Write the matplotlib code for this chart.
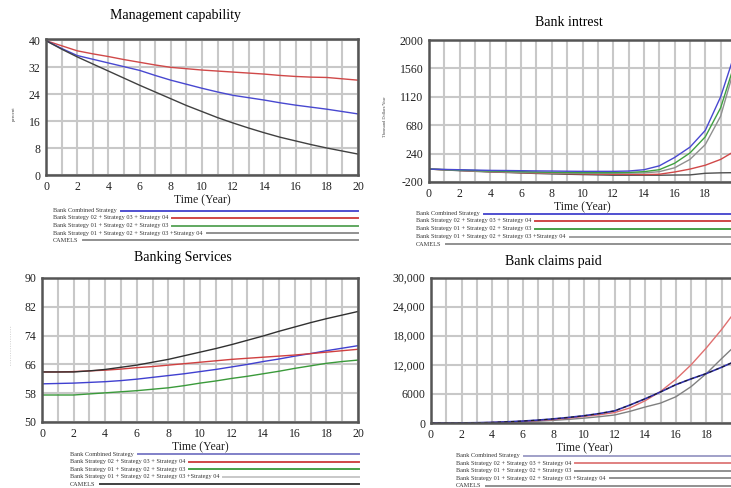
import numpy as np
import matplotlib
matplotlib.use("Agg")
import matplotlib.pyplot as plt
from matplotlib.lines import Line2D

plt.rcParams['font.family'] = ['Liberation Serif', 'DejaVu Serif']
plt.rcParams['axes.unicode_minus'] = False

years = list(range(0, 21))
xticks = [0, 2, 4, 6, 8, 10, 12, 14, 16, 18, 20]

legend_labels = ["Bank Combined Strategy",
                 "Bank Strategy 02 + Strategy 03 + Strategy 04",
                 "Bank Strategy 01 + Strategy 02 + Strategy 03",
                 "Bank Strategy 01 + Strategy 02 + Strategy 03 +Strategy 04",
                 "CAMELS"]

# ---- Management capability (percent)
mc_yticks = [0, 8, 16, 24, 32, 40]
mc_combined = [39.8, 37.5, 35.4, 34.3, 33.2, 32.1, 31.0, 29.5, 28.1, 26.9, 25.7,
               24.6, 23.6, 22.9, 22.2, 21.4, 20.7, 20.1, 19.5, 18.8, 18.1]
mc_s234 = [39.8, 38.3, 36.8, 35.9, 35.1, 34.2, 33.4, 32.6, 31.9, 31.5, 31.1,
           30.8, 30.5, 30.2, 29.9, 29.5, 29.2, 29.0, 28.9, 28.5, 28.1]
mc_camels = [39.8, 37.3, 35.0, 32.9, 30.8, 28.7, 26.6, 24.6, 22.6, 20.6, 18.8,
             17.0, 15.4, 13.9, 12.5, 11.2, 10.1, 9.0, 8.0, 7.1, 6.2]

# ---- Bank intrest
bi_yticks = [-200, 240, 680, 1120, 1560, 2000]
bi_combined = [0, -5, -10, -15, -20, -22, -25, -28, -30, -33, -35,
               -35, -35, -30, -10, 50, 180, 340, 600, 1120, 1850]
bi_s123 = [0, -8, -15, -22, -30, -35, -40, -45, -50, -52, -55,
           -55, -55, -52, -40, -10, 90, 250, 500, 950, 1700]
bi_s1234 = [0, -10, -20, -30, -40, -45, -50, -55, -60, -62, -65,
            -65, -65, -62, -60, -40, 20, 150, 380, 820, 1650]
bi_s234 = [0, -10, -20, -30, -40, -48, -55, -60, -65, -70, -75,
           -78, -80, -82, -85, -80, -45, 0, 60, 150, 290]
bi_camels = [0, -12, -25, -35, -45, -52, -60, -68, -75, -80, -85,
             -90, -95, -95, -95, -95, -92, -90, -65, -58, -55]

# ---- Banking Services
bs_yticks = [50, 58, 66, 74, 82, 90]
bs_camels = [63.9, 63.9, 63.9, 64.2, 64.6, 65.2, 65.8, 66.6, 67.4, 68.4, 69.4,
             70.4, 71.5, 72.7, 73.9, 75.2, 76.4, 77.6, 78.7, 79.7, 80.7]
bs_s234 = [63.9, 63.9, 64.0, 64.2, 64.4, 64.7, 65.1, 65.4, 65.8, 66.2, 66.6,
           67.0, 67.4, 67.7, 68.0, 68.3, 68.6, 69.0, 69.4, 69.8, 70.2]
bs_combined = [60.6, 60.7, 60.8, 61.0, 61.2, 61.5, 61.9, 62.4, 62.9, 63.4, 64.0,
               64.6, 65.3, 66.0, 66.8, 67.5, 68.3, 69.0, 69.8, 70.5, 71.2]
bs_s123 = [57.5, 57.5, 57.5, 57.8, 58.1, 58.4, 58.7, 59.1, 59.5, 60.1, 60.8,
           61.4, 62.1, 62.7, 63.4, 64.1, 64.9, 65.6, 66.3, 66.8, 67.2]

# ---- Bank claims paid
cp_yticks = [0, 6000, 12000, 18000, 24000, 30000]
cp_yticklabels = ["0", "6000", "12,000", "18,000", "24,000", "30,000"]
cp_combined = [0, 0, 20, 60, 130, 250, 400, 600, 850, 1150, 1500,
               1950, 2500, 3700, 5000, 6400, 7900, 9100, 10200, 11500, 12900]
cp_s234 = [0, 0, 10, 40, 100, 200, 330, 500, 720, 1000, 1350,
           1700, 2150, 3100, 4600, 6500, 9000, 12000, 15500, 19300, 23500]
cp_s1234 = [0, 0, 10, 30, 80, 150, 250, 380, 540, 750, 1000,
            1300, 1650, 2400, 3300, 4100, 5400, 7500, 10200, 13300, 16300]

W, H = 731, 488
fig = plt.figure(figsize=(W / 100, H / 100), dpi=100)


def rect(l, r, t, b):
    return [l / W, 1 - b / H, (r - l) / W, (b - t) / H]


def style_axes(ax, ylim, yticks, yticklabels=None):
    ax.set_xlim(0, 20)
    ax.set_ylim(*ylim)
    ax.set_xticks(xticks)
    ax.set_xticks(range(0, 21), minor=True)
    ax.set_yticks(yticks)
    if yticklabels is not None:
        ax.set_yticklabels(yticklabels)
    ax.grid(True, which='both', axis='x', color='#c8c8c8', lw=1.5, zorder=0)
    ax.grid(True, which='major', axis='y', color='#c8c8c8', lw=1.5, zorder=0)
    ax.tick_params(which='both', length=0, labelsize=8.5, pad=4, colors='#222222')
    ax.set_axisbelow(True)
    for s in ax.spines.values():
        s.set_color('#555555')
        s.set_linewidth(1.8)
    ax.set_xlabel("Time (Year)", fontsize=8.5, labelpad=1, color='#222222')


# Top-left
ax1 = fig.add_axes(rect(46, 358, 39, 175))
style_axes(ax1, (0, 40.3), mc_yticks)
ax1.plot(years, mc_s234, color='#d04848', lw=1)
ax1.plot(years, mc_combined, color='#4848d0', lw=1)
ax1.plot(years, mc_camels, color='#404040', lw=1)
fig.text(176 / W, 1 - 16 / H, "Management capability", ha='center', va='center', fontsize=10)
fig.text(14 / W, 1 - 114 / H, "percent", rotation=90, ha='center', va='center', fontsize=3.5, color='#444444')

# Top-right
ax2 = fig.add_axes(rect(429, 736, 40, 182))
style_axes(ax2, (-200, 2000), bi_yticks)
ax2.plot(years, bi_camels, color='#505050', lw=1)
ax2.plot(years, bi_s234, color='#d04848', lw=1)
ax2.plot(years, bi_s1234, color='#909090', lw=1)
ax2.plot(years, bi_s123, color='#40a040', lw=1)
ax2.plot(years, bi_combined, color='#4848d0', lw=1)
fig.text(569 / W, 1 - 23 / H, "Bank intrest", ha='center', va='center', fontsize=10)
fig.text(385 / W, 1 - 117 / H, "Thousand Dollars/Year", rotation=90, ha='center', va='center', fontsize=3.2, color='#444444')

# Bottom-left
ax3 = fig.add_axes(rect(42, 358, 278, 422))
style_axes(ax3, (50, 90), bs_yticks)
ax3.plot(years, bs_s123, color='#3a9a3a', lw=1)
ax3.plot(years, bs_combined, color='#4040d0', lw=1)
ax3.plot(years, bs_s234, color='#d04040', lw=1)
ax3.plot(years, bs_camels, color='#303030', lw=1)
fig.text(183 / W, 1 - 257 / H, "Banking Services", ha='center', va='center', fontsize=10)
fig.text(12 / W, 1 - 345 / H, "- - - - - - - - - - - - - - - - -", rotation=90, ha='center', va='center', fontsize=3, color='#777777')

# Bottom-right
ax4 = fig.add_axes(rect(431, 737, 277.5, 423))
style_axes(ax4, (0, 30000), cp_yticks, cp_yticklabels)
ax4.plot(years, cp_s1234, color='#808080', lw=1)
ax4.plot(years, cp_s234, color='#e07070', lw=1)
ax4.plot(years, cp_combined, color='#3030b0', lw=1.2)
ax4.plot(years, cp_combined, color='#202020', lw=0.8, ls=(0, (3, 3)))
fig.text(553 / W, 1 - 261 / H, "Bank claims paid", ha='center', va='center', fontsize=10)

# legends (Vensim style: label then line)
legend_specs = [
    (53, [210.5, 218, 225.5, 233, 240], 358,
     ['#5050d0', '#d04848', '#60a860', '#909090', '#909090']),
    (416, [214, 221, 229, 237, 244], 731,
     ['#5050d0', '#d04848', '#48a048', '#a0a0a0', '#909090']),
    (70, [454.3, 461.7, 469, 476.7, 484], 359,
     ['#8080c8', '#d04848', '#48a048', '#c8c8c8', '#404040']),
    (456, [455.7, 463.3, 470.7, 478.3, 485.7], 731,
     ['#a0a0c8', '#e08080', '#909090', '#909090', '#909090']),
]

renderer = fig.canvas.get_renderer()
for x0, ys, xend, cols in legend_specs:
    for lab, y, c in zip(legend_labels, ys, cols):
        t = fig.text(x0 / W, 1 - y / H, lab, ha='left', va='center', fontsize=4.5, color='#333333')
        bb = t.get_window_extent(renderer)
        xs = (bb.x1 + 4) / W
        fig.add_artist(Line2D([xs, xend / W], [1 - y / H, 1 - y / H], color=c, lw=1.4,
                              transform=fig.transFigure))

fig.savefig("out.png", dpi=100)
